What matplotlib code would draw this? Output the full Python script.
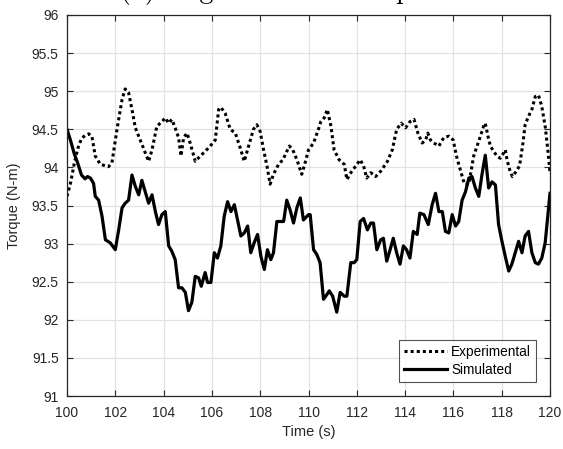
import matplotlib
matplotlib.use("Agg")
import matplotlib.pyplot as plt
from matplotlib.ticker import FuncFormatter, MultipleLocator

# Experimental torque trace (time in s, torque in N-m)
exp_t = [100.0, 100.15, 100.3, 100.45, 100.6, 100.75, 100.9, 101.03, 101.17, 101.38,
         101.72, 101.86, 102.07, 102.28, 102.41, 102.55, 102.69, 102.83, 103.03, 103.38,
         103.52, 103.72, 103.93, 104.07, 104.21, 104.34, 104.48, 104.62, 104.72, 104.83,
         104.97, 105.10, 105.31, 105.52, 105.72, 105.93, 106.14, 106.28, 106.37, 106.55,
         106.76, 106.97, 107.17, 107.34, 107.52, 107.72, 107.86, 108.00, 108.14, 108.28,
         108.41, 108.55, 108.76, 108.94, 109.10, 109.21, 109.35, 109.52, 109.72, 109.86,
         110.00, 110.21, 110.41, 110.51, 110.65, 110.78, 110.93, 111.06, 111.27, 111.48,
         111.59, 111.75, 111.96, 112.14, 112.28, 112.41, 112.58, 112.78, 112.99, 113.27,
         113.47, 113.65, 113.84, 114.02, 114.20, 114.37, 114.53, 114.71, 114.85, 114.94,
         115.05, 115.19, 115.40, 115.60, 115.81, 115.99, 116.15, 116.32, 116.46, 116.64,
         116.84, 116.98, 117.12, 117.25, 117.32, 117.43, 117.53, 117.67, 117.80, 117.94,
         118.08, 118.15, 118.22, 118.33, 118.44, 118.56, 118.74, 118.88, 118.97, 119.11,
         119.25, 119.39, 119.52, 119.66, 119.80, 119.91, 120.0]
exp_torque = [93.62, 93.80, 94.05, 94.25, 94.38, 94.42, 94.44, 94.41, 94.15, 94.04,
              94.01, 94.06, 94.50, 94.89, 95.03, 94.98, 94.76, 94.52, 94.36, 94.08,
              94.23, 94.54, 94.60, 94.65, 94.58, 94.63, 94.52, 94.39, 94.15, 94.39,
              94.45, 94.32, 94.08, 94.15, 94.21, 94.28, 94.36, 94.76, 94.79, 94.71,
              94.50, 94.45, 94.26, 94.08, 94.28, 94.50, 94.56, 94.47, 94.23, 94.02,
              93.78, 93.91, 94.04, 94.10, 94.21, 94.28, 94.23, 94.10, 93.91, 94.06,
              94.23, 94.32, 94.50, 94.60, 94.65, 94.76, 94.54, 94.23, 94.10, 94.04,
              93.84, 93.93, 94.02, 94.10, 94.02, 93.86, 93.93, 93.88, 93.95, 94.08,
              94.23, 94.50, 94.58, 94.52, 94.60, 94.63, 94.45, 94.32, 94.36, 94.45,
              94.36, 94.32, 94.28, 94.39, 94.41, 94.36, 94.12, 93.93, 93.78, 93.78,
              94.15, 94.28, 94.41, 94.54, 94.58, 94.41, 94.28, 94.21, 94.15, 94.12,
              94.19, 94.23, 94.10, 93.97, 93.88, 93.93, 94.02, 94.32, 94.56, 94.67,
              94.76, 94.93, 94.95, 94.80, 94.54, 94.23, 93.93]

# Simulated torque trace
sim_t = [100.0, 100.15, 100.3, 100.45, 100.6, 100.75, 100.85, 100.97, 101.10, 101.17,
         101.31, 101.45, 101.59, 101.79, 102.00, 102.14, 102.28, 102.41, 102.55, 102.69,
         102.83, 102.97, 103.10, 103.24, 103.38, 103.52, 103.66, 103.79, 103.93, 104.07,
         104.21, 104.34, 104.48, 104.62, 104.76, 104.90, 105.03, 105.17, 105.31, 105.45,
         105.56, 105.72, 105.82, 105.96, 106.10, 106.23, 106.37, 106.51, 106.65, 106.79,
         106.93, 107.06, 107.20, 107.34, 107.48, 107.61, 107.75, 107.89, 108.03, 108.17,
         108.30, 108.44, 108.55, 108.69, 108.90, 108.97, 109.10, 109.24, 109.38, 109.52,
         109.66, 109.79, 110.00, 110.07, 110.21, 110.34, 110.48, 110.62, 110.76, 110.86,
         111.00, 111.17, 111.31, 111.48, 111.59, 111.75, 111.89, 112.00, 112.14, 112.28,
         112.44, 112.58, 112.69, 112.83, 112.99, 113.10, 113.24, 113.38, 113.51, 113.65,
         113.79, 113.93, 114.06, 114.20, 114.34, 114.50, 114.61, 114.78, 114.96, 115.12,
         115.26, 115.40, 115.54, 115.67, 115.81, 115.95, 116.09, 116.22, 116.36, 116.50,
         116.64, 116.77, 116.91, 117.05, 117.19, 117.32, 117.46, 117.60, 117.74, 117.87,
         118.01, 118.15, 118.29, 118.42, 118.56, 118.70, 118.84, 118.97, 119.11, 119.25,
         119.39, 119.52, 119.66, 119.80, 119.91, 120.0]
sim_torque = [94.50, 94.35, 94.18, 94.05, 93.90, 93.85, 93.88, 93.86, 93.79, 93.62,
              93.57, 93.36, 93.05, 93.01, 92.92, 93.18, 93.47, 93.53, 93.57, 93.90,
              93.75, 93.64, 93.83, 93.68, 93.53, 93.64, 93.42, 93.25, 93.38, 93.42,
              92.97, 92.90, 92.79, 92.42, 92.42, 92.36, 92.12, 92.23, 92.57, 92.55,
              92.44, 92.62, 92.49, 92.49, 92.88, 92.81, 92.97, 93.36, 93.55, 93.42,
              93.51, 93.31, 93.10, 93.14, 93.23, 92.88, 93.01, 93.12, 92.83, 92.66,
              92.92, 92.79, 92.88, 93.29, 93.29, 93.29, 93.57, 93.44, 93.27, 93.47,
              93.60, 93.31, 93.38, 93.38, 92.92, 92.86, 92.75, 92.27, 92.33, 92.38,
              92.31, 92.10, 92.36, 92.31, 92.31, 92.75, 92.75, 92.79, 93.29, 93.33,
              93.18, 93.27, 93.27, 92.92, 93.05, 93.07, 92.77, 92.92, 93.07, 92.88,
              92.73, 92.97, 92.92, 92.81, 93.16, 93.12, 93.40, 93.38, 93.25, 93.51,
              93.66, 93.42, 93.42, 93.16, 93.14, 93.38, 93.23, 93.29, 93.57, 93.68,
              93.86, 93.88, 93.73, 93.62, 93.92, 94.16, 93.73, 93.81, 93.77, 93.25,
              93.03, 92.83, 92.64, 92.73, 92.88, 93.03, 92.88, 93.10, 93.16, 92.88,
              92.75, 92.73, 92.81, 93.01, 93.36, 93.66]

x_ticks = [100, 102, 104, 106, 108, 110, 112, 114, 116, 118, 120]

plt.rcParams['font.family'] = ['Liberation Sans', 'DejaVu Sans']
edge = '#262626'

fig = plt.figure(figsize=(5.63, 4.49), dpi=100)
ax = fig.add_axes([67 / 563, 53 / 449, 483 / 563, 381 / 449])

ax.plot(exp_t, exp_torque, color='black', lw=2.2, linestyle=(0, (1.0, 1.0)),
        dash_capstyle='butt', label='Experimental')
ax.plot(sim_t, sim_torque, color='black', lw=2.3, label='Simulated')

ax.set_xlim(100, 120)
ax.set_ylim(91, 96)
ax.set_xticks(x_ticks)
ax.yaxis.set_major_locator(MultipleLocator(0.5))
ax.yaxis.set_major_formatter(FuncFormatter(lambda v, p: f'{v:g}'))

ax.grid(True, color='#e3e3e3', lw=0.9)
ax.set_axisbelow(True)
for s in ax.spines.values():
    s.set_color(edge)
    s.set_linewidth(0.9)
ax.tick_params(direction='in', top=True, right=True, length=4, width=0.8,
               colors=edge, labelsize=10)
ax.tick_params(axis='x', pad=7)
ax.tick_params(axis='y', pad=6)

ax.set_xlabel('Time (s)', fontsize=10.5, color=edge, labelpad=4)
ax.set_ylabel('Torque (N-m)', fontsize=10.5, color=edge, labelpad=8)

leg = ax.legend(loc='lower right', bbox_to_anchor=(536 / 483 - 67 / 483, (396 - 382) / 381),
                fontsize=9.8, frameon=True, fancybox=False, edgecolor=edge,
                handlelength=3.2, handletextpad=0.3, borderpad=0.35,
                labelspacing=0.3, borderaxespad=0)
leg.get_frame().set_linewidth(0.8)

fig.text(119.5 / 563, 1 + 2.5 / 449, '(a) Engine Brake Comparison', fontfamily='cmr10',
         fontsize=20, ha='left', va='baseline', color='black')

fig.savefig('out.png', dpi=100)
